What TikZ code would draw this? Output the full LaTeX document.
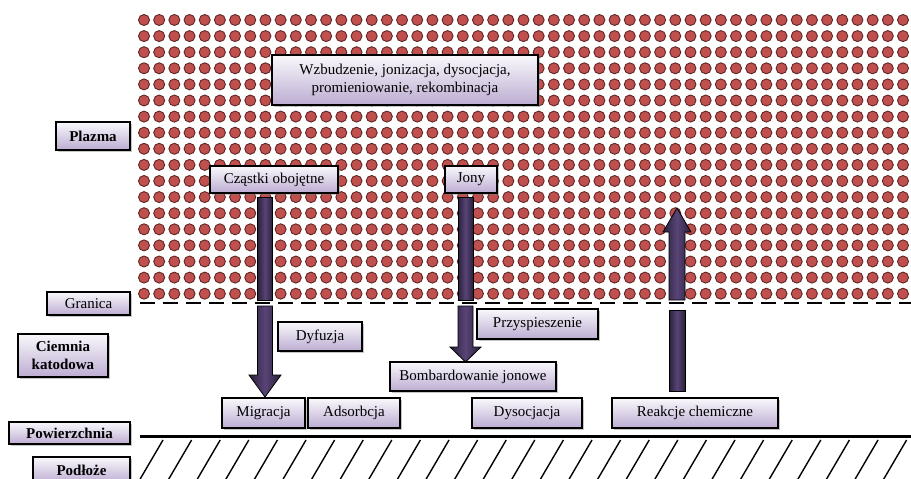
\documentclass[tikz,border=0pt]{standalone}
\usepackage{fontspec}
\setmainfont{Liberation Serif}
\usepackage{tikz}
\usetikzlibrary{shapes, arrows, shadows}
\definecolor{boxlav}{RGB}{188,172,210}
\definecolor{beamdark}{RGB}{42,32,58}
\definecolor{beammid}{RGB}{88,68,118}
\definecolor{dotred}{RGB}{192,80,77}
\definecolor{dotrim}{RGB}{95,38,38}
\tikzstyle{proc} = [rectangle, draw = black, line width = 1.6, inner sep = 0,
  top color = white!92!boxlav, bottom color = boxlav, text centered,
  drop shadow = {shadow xshift = 2pt, shadow yshift = -2pt, opacity = 0.45},
  font = \fontsize{15}{17.5}\selectfont]
\tikzstyle{tag} = [proc, font = \fontsize{15}{17.5}\selectfont\bfseries]
\tikzstyle{beam} = [draw = black, line width = 0.8, left color = beamdark,
  right color = beamdark, middle color = beammid]

\begin{document}
\begin{tikzpicture}[x = 1pt, y = -1pt]
      \useasboundingbox (0, 0) rectangle (911, 479);

      \foreach \i in {0, ..., 50}
        \foreach \j in {0, ..., 17}
          \filldraw [fill = dotred, draw = dotrim, line width = 0.9]
            (144 + \i * 15.18, 20 + \j * 16.1) circle [radius = 5.5pt];

      \coordinate (edge-l) at (140, 303);
      \coordinate (edge-r) at (911, 303);
      \draw [line width = 2.8, dash pattern = on 15pt off 8pt] (edge-l) -- (edge-r);

      \coordinate (surf-l) at (140, 436);
      \coordinate (surf-r) at (911, 436);
      \draw [line width = 3] (surf-l) -- (surf-r);
      \foreach \k in {0, ..., 26}
        \draw [line width = 1.4] (139 + \k * 28.6, 481) -- (163 + \k * 28.6, 440);

      \draw [beam] (257.5, 197) rectangle (272.5, 300);
      \draw [beam] (257.5, 306) -- (257.5, 375) -- (249, 375) -- (265, 397)
        -- (281, 375) -- (272.5, 375) -- (272.5, 306) -- cycle;
      \draw [beam] (458, 197) rectangle (473, 300);
      \draw [beam] (458, 306) -- (458, 347) -- (450, 347) -- (465.5, 362)
        -- (481, 347) -- (473, 347) -- (473, 306) -- cycle;
      \draw [beam] (669, 391) rectangle (685, 310);
      \draw [beam] (669, 300) -- (669, 232) -- (663, 232) -- (677, 208)
        -- (691, 232) -- (685, 232) -- (685, 300) -- cycle;

      \node [tag, minimum width = 74, minimum height = 28] (lab-plazma) at (93, 136) {Plazma};
      \node [proc, minimum width = 83, minimum height = 23] (lab-granica) at (88.5, 303.5) {Granica};
      \node [tag, minimum width = 90, minimum height = 43, align = center] (lab-ciemnia) at (63, 355.5) {Ciemnia\\katodowa};
      \node [tag, minimum width = 121, minimum height = 22] (lab-powierzchnia) at (69.5, 433) {Powierzchnia};
      \node [tag, minimum width = 97, minimum height = 26] (lab-podloze) at (81.5, 470) {Podłoże};

      \node [proc, minimum width = 266, minimum height = 50, align = center] (box-wzbudzenie) at (405, 80)
        {Wzbudzenie, jonizacja, dysocjacja,\\promieniowanie, rekombinacja};
      \node [proc, minimum width = 128, minimum height = 27] (box-czastki) at (274, 179.5) {Cząstki obojętne};
      \node [proc, minimum width = 52, minimum height = 27] (box-jony) at (471, 179.5) {Jony};
      \node [proc, minimum width = 84, minimum height = 29] (box-dyfuzja) at (320, 336.5) {Dyfuzja};
      \node [proc, minimum width = 121, minimum height = 30] (box-przysp) at (537.5, 324) {Przyspieszenie};
      \node [proc, minimum width = 166, minimum height = 29] (box-bombard) at (473, 376.5) {Bombardowanie jonowe};
      \node [proc, minimum width = 83, minimum height = 30] (box-migracja) at (263.5, 413) {Migracja};
      \node [proc, minimum width = 92, minimum height = 30] (box-adsorbcja) at (354, 413) {Adsorbcja};
      \node [proc, minimum width = 110, minimum height = 30] (box-dysocjacja) at (527, 413) {Dysocjacja};
      \node [proc, minimum width = 166, minimum height = 30] (box-reakcje) at (695, 413) {Reakcje chemiczne};
    \end{tikzpicture}
\end{document}
